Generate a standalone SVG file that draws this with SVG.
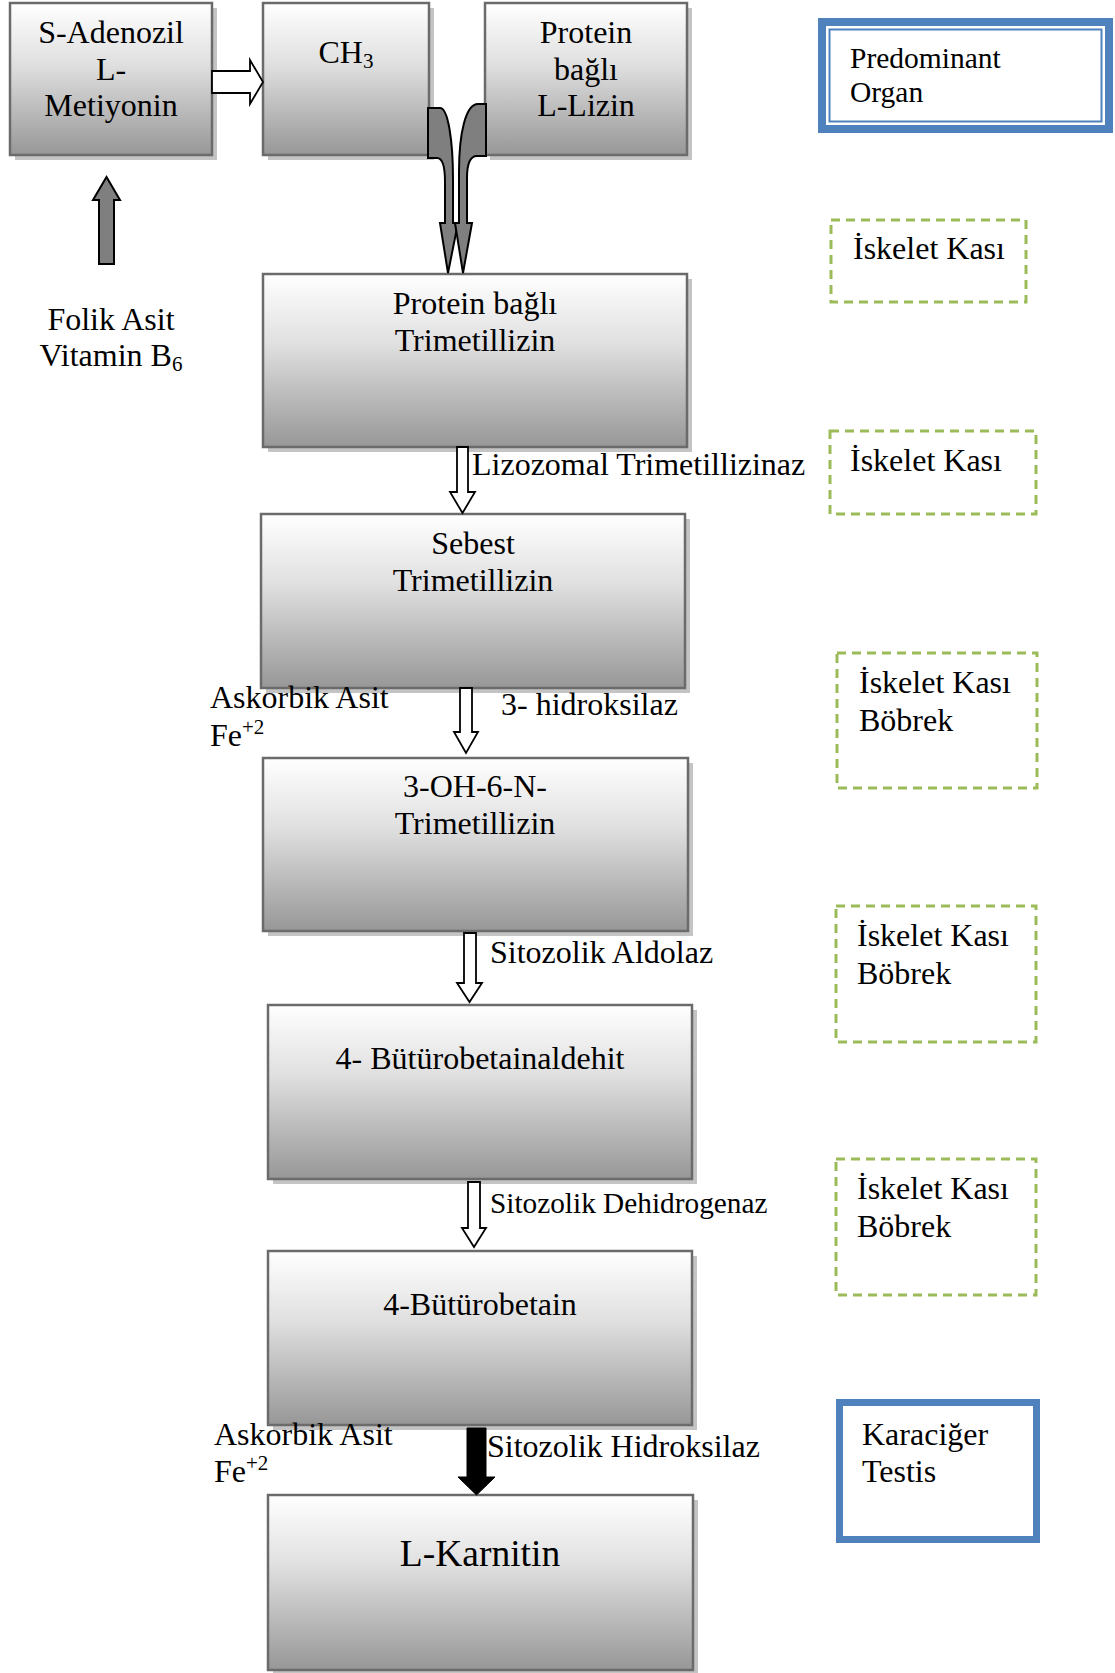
<svg xmlns="http://www.w3.org/2000/svg" width="1115" height="1673" viewBox="0 0 1115 1673">
<defs>
<linearGradient id="gbox" x1="0" y1="0" x2="0" y2="1">
<stop offset="0" stop-color="#ffffff"/>
<stop offset="0.4" stop-color="#e0e0e0"/>
<stop offset="1" stop-color="#979797"/>
</linearGradient>
</defs>
<style>
text{font-family:"Liberation Serif","Times New Roman",serif;fill:#000;font-size:32px}
.c{text-anchor:middle}
.box{fill:url(#gbox);stroke:#6b6b6b;stroke-width:2.5}
.sh{fill:#c4c4c4}
.dash{fill:#fff;stroke:#9bbb59;stroke-width:3;stroke-dasharray:9 6}
.hollow{fill:#fff;stroke:#000;stroke-width:1.8;stroke-linejoin:miter}
.grey{fill:#7f7f7f;stroke:#000;stroke-width:2;stroke-linejoin:miter}
.blk{fill:#000;stroke:#000;stroke-width:1}
.legend{font-size:29.5px}
.big{font-size:37.5px}
.small{font-size:29.3px}
</style>
<rect width="1115" height="1673" fill="#fff"/>

<g id="node-sam">
<rect class="sh" x="15" y="8" width="202" height="152"/>
<rect class="box" x="10" y="3" width="202" height="152"/>
<text class="c" x="111" y="43">S-Adenozil</text>
<text class="c" x="111" y="80">L-</text>
<text class="c" x="111" y="116">Metiyonin</text>
</g>

<g id="node-ch3">
<rect class="sh" x="268" y="8" width="166" height="152"/>
<rect class="box" x="263" y="3" width="166" height="152"/>
<text class="c" x="346" y="63">CH<tspan font-size="21" dy="5">3</tspan></text>
</g>

<g id="node-lizin">
<rect class="sh" x="490" y="8" width="202" height="152"/>
<rect class="box" x="485" y="3" width="202" height="152"/>
<text class="c" x="586" y="43">Protein</text>
<text class="c" x="586" y="80">bağlı</text>
<text class="c" x="586" y="116">L-Lizin</text>
</g>

<g id="node-folik">
<text class="c" x="111" y="330">Folik Asit</text>
<text class="c" x="111" y="366">Vitamin B<tspan font-size="21" dy="5">6</tspan></text>
</g>

<g id="node-ptml">
<rect class="sh" x="268" y="279" width="424" height="173"/>
<rect class="box" x="263" y="274" width="424" height="173"/>
<text class="c" x="475" y="314">Protein bağlı</text>
<text class="c" x="475" y="351">Trimetillizin</text>
</g>

<g id="node-sebest">
<rect class="sh" x="266" y="519" width="424" height="174"/>
<rect class="box" x="261" y="514" width="424" height="174"/>
<text class="c" x="473" y="554">Sebest</text>
<text class="c" x="473" y="591">Trimetillizin</text>
</g>

<g id="node-cofactor1">
<text x="210" y="708">Askorbik Asit</text>
<text x="210" y="746">Fe<tspan font-size="21" dy="-12">+2</tspan></text>
</g>

<g id="node-hyd">
<rect class="sh" x="268" y="763" width="425" height="173"/>
<rect class="box" x="263" y="758" width="425" height="173"/>
<text class="c" x="475" y="797">3-OH-6-N-</text>
<text class="c" x="475" y="834">Trimetillizin</text>
</g>

<g id="node-tmaba">
<rect class="sh" x="273" y="1010" width="424" height="174"/>
<rect class="box" x="268" y="1005" width="424" height="174"/>
<text class="c" x="480" y="1069">4- Bütürobetainaldehit</text>
</g>

<g id="node-gbb">
<rect class="sh" x="273" y="1256" width="424" height="174"/>
<rect class="box" x="268" y="1251" width="424" height="174"/>
<text class="c" x="480" y="1315">4-Bütürobetain</text>
</g>

<g id="node-cofactor2">
<text x="214" y="1445">Askorbik Asit</text>
<text x="214" y="1482">Fe<tspan font-size="21" dy="-12">+2</tspan></text>
</g>

<g id="node-karnitin">
<rect class="sh" x="273" y="1500" width="425" height="175"/>
<rect class="box" x="268" y="1495" width="425" height="175"/>
<text class="c big" x="480" y="1566">L-Karnitin</text>
</g>

<g id="node-legend">
<rect x="822" y="22" width="287" height="107" fill="#fff" stroke="#4f81bd" stroke-width="8"/>
<rect x="829.5" y="29.5" width="272" height="92" fill="none" stroke="#4f81bd" stroke-width="2"/>
<text class="legend" x="850" y="68">Predominant</text>
<text class="legend" x="850" y="102">Organ</text>
</g>

<g id="node-organ1">
<rect class="dash" x="831" y="220" width="195" height="82"/>
<text x="853" y="259">İskelet Kası</text>
</g>

<g id="node-organ2">
<rect class="dash" x="830" y="431" width="206" height="83"/>
<text x="850" y="471">İskelet Kası</text>
</g>

<g id="node-organ3">
<rect class="dash" x="837" y="653" width="200" height="135"/>
<text x="859" y="693">İskelet Kası</text>
<text x="859" y="731">Böbrek</text>
</g>

<g id="node-organ4">
<rect class="dash" x="836" y="906" width="200" height="136"/>
<text x="857" y="946">İskelet Kası</text>
<text x="857" y="984">Böbrek</text>
</g>

<g id="node-organ5">
<rect class="dash" x="836" y="1159" width="200" height="136"/>
<text x="857" y="1199">İskelet Kası</text>
<text x="857" y="1237">Böbrek</text>
</g>

<g id="node-organ6">
<rect x="839.5" y="1402.5" width="197" height="137" fill="#fff" stroke="#4f81bd" stroke-width="7"/>
<text x="862" y="1445">Karaciğer</text>
<text x="862" y="1482">Testis</text>
</g>

<g id="connectors">
<path class="hollow" d="M212,71 H250 V60 L263,82 L250,104 V93 H212 Z"/>
<path class="grey" d="M99,264 V200 H93 L106.5,177 L120,200 H114 V264 Z"/>
<path class="grey" d="M428,108 L440,108 C448,108 453,140 453,180 L453,223 L458,223 L448,273 L440,223 L445,223 L445,182 C445,166 442,158 437,158 L428,158 Z"/>
<path class="grey" d="M486,104 L478,104 C466,104 459,132 459,172 L459,223 L455,223 L463,273 L472,223 L467,223 L467,178 C467,164 470,156 477,156 L486,156 Z"/>
<path class="hollow" d="M457,447 V492 H450 L462.5,513 L475,492 H468 V447 Z"/>
<text x="472" y="475">Lizozomal Trimetillizinaz</text>
<path class="hollow" d="M460,688 V732 H454 L466,753 L478,732 H472 V688 Z"/>
<text x="501" y="715">3- hidroksilaz</text>
<path class="hollow" d="M464,933 V983 H457 L469.5,1002 L482,983 H476 V933 Z"/>
<text x="490" y="963">Sitozolik Aldolaz</text>
<path class="hollow" d="M468,1182 V1228 H462 L474,1247 L486,1228 H480 V1182 Z"/>
<text class="small" x="490" y="1213">Sitozolik Dehidrogenaz</text>
<path class="blk" d="M467,1428 V1477 H458 L476.5,1495 L495,1477 H486 V1428 Z"/>
<text x="487" y="1457">Sitozolik Hidroksilaz</text>
</g>
</svg>
